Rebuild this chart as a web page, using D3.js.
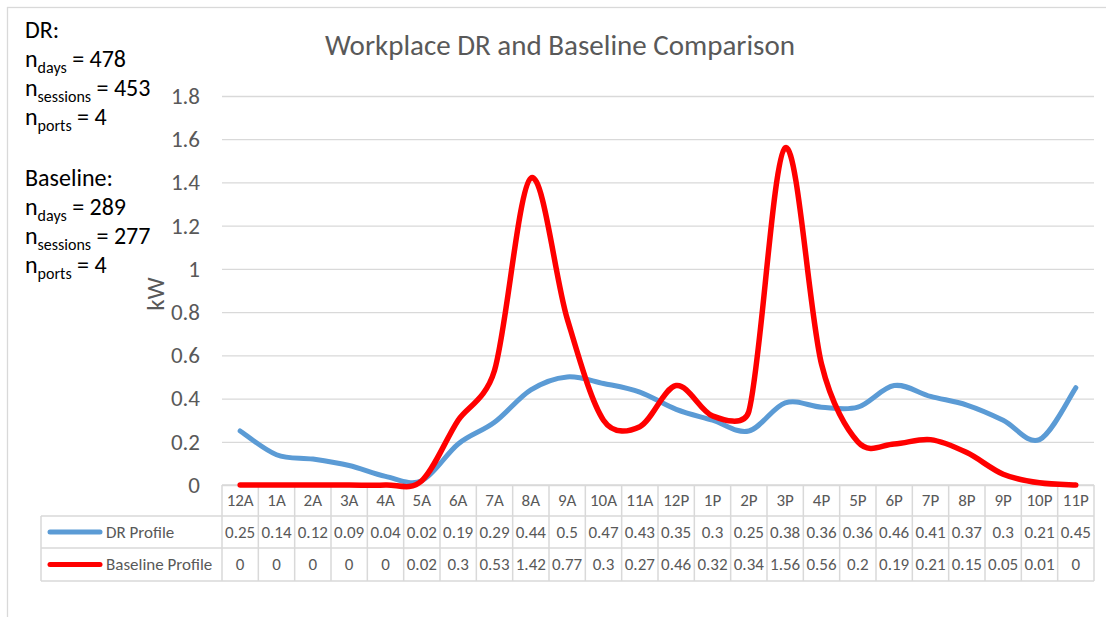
<!DOCTYPE html>
<html>
<head>
<meta charset="utf-8">
<script src="https://cdn.jsdelivr.net/npm/d3@7"></script>
<style>
  html, body { margin: 0; padding: 0; background: #fff; }
  svg { display: block; font-family: Carlito, Calibri, Lato, sans-serif; }
</style>
</head>
<body>
<svg id="chart" width="1106" height="617"></svg>
<script>
// Hourly charging profiles (kW)
const hours = ["12A","1A","2A","3A","4A","5A","6A","7A","8A","9A","10A","11A",
               "12P","1P","2P","3P","4P","5P","6P","7P","8P","9P","10P","11P"];
const drProfile = [0.25,0.14,0.12,0.09,0.04,0.02,0.19,0.29,0.44,0.5,0.47,0.43,
                   0.35,0.3,0.25,0.38,0.36,0.36,0.46,0.41,0.37,0.3,0.21,0.45];
const baselineProfile = [0,0,0,0,0,0.02,0.3,0.53,1.42,0.77,0.3,0.27,
                         0.46,0.32,0.34,1.56,0.56,0.2,0.19,0.21,0.15,0.05,0.01,0];
const yTicks = [0,0.2,0.4,0.6,0.8,1,1.2,1.4,1.6,1.8];
const seriesNames = ["DR Profile","Baseline Profile"];
const seriesColors = ["#5B9BD5","#FF0000"];
const drNotes = [["days","478"],["sessions","453"],["ports","4"]];
const baselineNotes = [["days","289"],["sessions","277"],["ports","4"]];

// Spreadsheet-style smoothing: Bezier segments with 1/6 tangents,
// control arms capped at half the segment length.
function smoothCurve(context) {
  let pts = [];
  return {
    areaStart() {}, areaEnd() {},
    lineStart() { pts = []; },
    point(x, y) { pts.push([x, +y]); },
    lineEnd() {
      const n = pts.length;
      if (!n) return;
      context.moveTo(pts[0][0], pts[0][1]);
      const dist = (a, b) => Math.hypot(b[0]-a[0], b[1]-a[1]);
      for (let i = 0; i < n - 1; i++) {
        const p0 = pts[Math.max(i-1,0)], p1 = pts[i], p2 = pts[i+1], p3 = pts[Math.min(i+2,n-1)];
        const d12 = dist(p1,p2), d02 = dist(p0,p2), d13 = dist(p1,p3);
        let f1 = 1/6, f2 = 1/6;
        const over1 = d02/6 > d12/2, over2 = d13/6 > d12/2;
        if (over1 && over2) { f1 = d12/2/d02; f2 = d12/2/d13; }
        else if (over1) { f1 = f2 = d12/2/d02; }
        else if (over2) { f1 = f2 = d12/2/d13; }
        const b1 = [p1[0] + (p2[0]-p0[0])*f1, p1[1] + (p2[1]-p0[1])*f1];
        const b2 = [p2[0] - (p3[0]-p1[0])*f2, p2[1] - (p3[1]-p1[1])*f2];
        context.bezierCurveTo(b1[0], b1[1], b2[0], b2[1], p2[0], p2[1]);
      }
    }
  };
}

const svg = d3.select("#chart");
const gridColor = "#d9d9d9";
const textColor = "#595959";

// chart frame
svg.append("rect").attr("x",7.5).attr("y",7.5).attr("width",1120).attr("height",630)
  .attr("fill","#fff").attr("stroke",gridColor).attr("stroke-width",1.3);

const plotLeft = 222, plotRight = 1094, plotTop = 96, plotBottom = 485;
const x = d3.scaleBand().domain(hours).range([plotLeft, plotRight]);
const y = d3.scaleLinear().domain([0,1.8]).range([plotBottom, plotTop]);
const cx = h => x(h) + x.bandwidth()/2;

// title
svg.append("text").attr("x",560).attr("y",55).attr("text-anchor","middle")
  .attr("font-size",29).attr("fill",textColor).text("Workplace DR and Baseline Comparison");

// horizontal gridlines + y labels
const yAxis = d3.axisLeft(y).tickValues(yTicks).tickSize(-(plotRight-plotLeft))
  .tickPadding(22).tickFormat(d3.format("~g"));
const gy = svg.append("g").attr("transform",`translate(${plotLeft},0)`).call(yAxis);
gy.select(".domain").remove();
gy.selectAll(".tick line").attr("stroke",gridColor).attr("stroke-width",1.3);
gy.selectAll(".tick text").attr("font-size",23).attr("fill",textColor)
  .attr("font-family","Carlito, Calibri, Lato, sans-serif");

// axis title
svg.append("text").attr("transform","translate(164,294) rotate(-90)")
  .attr("text-anchor","middle").attr("font-size",25).attr("fill",textColor).text("kW");

// data table below the plot
const rowTop = [485, 516, 548, 581];
const tableLeft = 41;
const tg = svg.append("g").attr("stroke",gridColor).attr("stroke-width",1.5).attr("fill","none");
tg.append("line").attr("x1",plotLeft).attr("x2",plotRight).attr("y1",rowTop[0]).attr("y2",rowTop[0]);
[1,2,3].forEach(i => tg.append("line").attr("x1",tableLeft).attr("x2",plotRight)
  .attr("y1",rowTop[i]).attr("y2",rowTop[i]));
hours.forEach(h => tg.append("line").attr("x1",x(h)).attr("x2",x(h)).attr("y1",rowTop[0]).attr("y2",rowTop[3]));
tg.append("line").attr("x1",plotRight).attr("x2",plotRight).attr("y1",rowTop[0]).attr("y2",rowTop[3]);
tg.append("line").attr("x1",tableLeft).attr("x2",tableLeft).attr("y1",rowTop[1]).attr("y2",rowTop[3]);

const cellFont = 17;
svg.append("g").selectAll("text").data(hours).join("text")
  .attr("x",cx).attr("y",(rowTop[0]+rowTop[1])/2).attr("dy","0.35em")
  .attr("text-anchor","middle").attr("font-size",cellFont).attr("fill",textColor).text(d=>d);

[drProfile, baselineProfile].forEach((vals,i) => {
  const ym = (rowTop[i+1]+rowTop[i+2])/2;
  svg.append("g").selectAll("text").data(vals).join("text")
    .attr("x",(d,j)=>cx(hours[j])).attr("y",ym).attr("dy","0.35em")
    .attr("text-anchor","middle").attr("font-size",cellFont).attr("fill",textColor).text(d=>d);
  svg.append("line").attr("x1",50).attr("x2",100).attr("y1",ym).attr("y2",ym)
    .attr("stroke",seriesColors[i]).attr("stroke-width",5).attr("stroke-linecap","round");
  svg.append("text").attr("x",106).attr("y",ym).attr("dy","0.35em")
    .attr("font-size",cellFont).attr("fill",textColor).text(seriesNames[i]);
});

// smoothed series lines
const line = d3.line().x((d,j)=>cx(hours[j])).y(d=>y(d)).curve(smoothCurve);
svg.append("path").datum(drProfile).attr("d",line).attr("fill","none")
  .attr("stroke",seriesColors[0]).attr("stroke-width",5).attr("stroke-linecap","round");
svg.append("path").datum(baselineProfile).attr("d",line).attr("fill","none")
  .attr("stroke",seriesColors[1]).attr("stroke-width",5.5).attr("stroke-linecap","round");

// sample-size notes
function notes(title, items, y0) {
  svg.append("text").attr("x",25).attr("y",y0).attr("font-size",24).attr("fill","#000").text(title);
  items.forEach((it,k) => {
    const t = svg.append("text").attr("x",25).attr("y",y0+29*(k+1)).attr("font-size",24).attr("fill","#000");
    t.append("tspan").text("n");
    t.append("tspan").attr("font-size",16).attr("dy",6).text(it[0]);
    t.append("tspan").attr("dy",-6).text(" = " + it[1]);
  });
}
notes("DR:", drNotes, 38);
notes("Baseline:", baselineNotes, 186);
</script>
</body>
</html>
